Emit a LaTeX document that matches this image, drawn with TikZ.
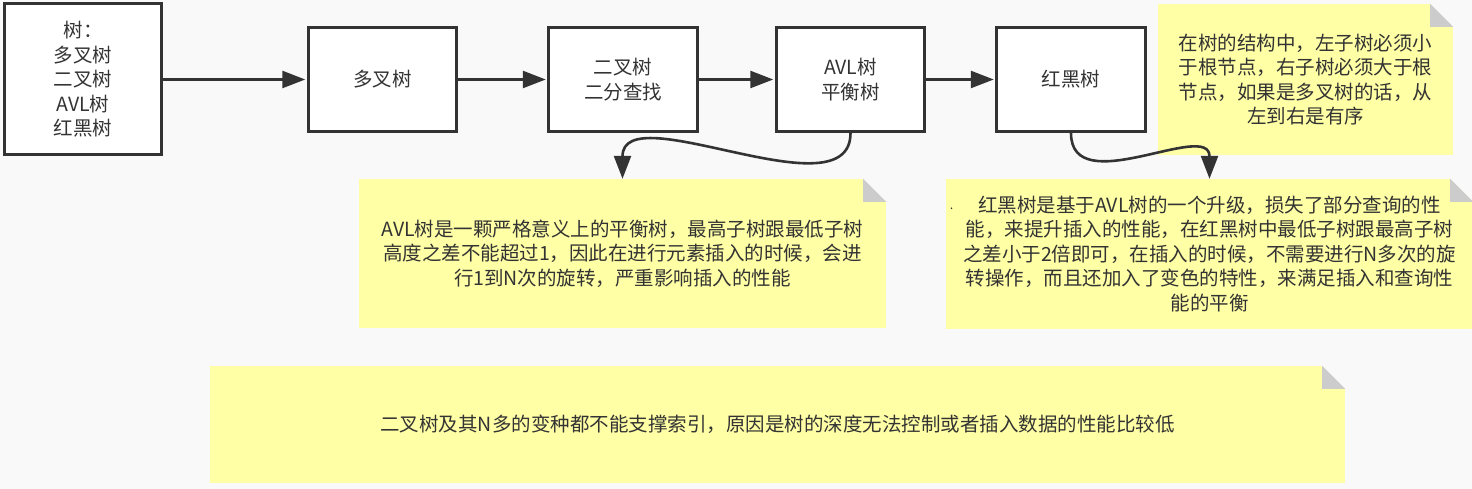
\documentclass[tikz,border=0pt]{standalone}
\usepackage{fontspec}
\setmainfont{Noto Sans CJK SC}
\usepackage{tikz}
\usetikzlibrary{arrows.meta, calc, positioning}
\definecolor{hinter}{HTML}{F9F9F9}
\definecolor{rand}{HTML}{333333}
\definecolor{notizgelb}{HTML}{FFFFA6}
\definecolor{knick}{HTML}{CCCCCC}

% Eselsohr oben rechts an einer Notiz
\newcommand{\eselsohr}[1]{%
  \fill[hinter] ($(#1.north east)+(-23pt,0)$) -- (#1.north east) -- ($(#1.north east)+(0,-23pt)$) -- cycle;
  \fill[knick] ($(#1.north east)+(-23pt,0)$) -- ($(#1.north east)+(0,-23pt)$) -- ($(#1.north east)+(-23pt,-23pt)$) -- cycle;}

\begin{document}
\begin{tikzpicture}[x=1pt, y=1pt,
    font=\fontsize{19.5pt}{24.5pt}\selectfont,
    kasten/.style={draw=rand, line width=3pt, fill=white, minimum width=148.5pt,
                   minimum height=104pt, align=center, inner sep=0pt, text=rand},
    notiz/.style={fill=notizgelb, align=center, inner sep=0pt, text=rand},
    pfeil/.style={draw=rand, line width=2.6pt, -{Triangle[length=23pt,width=17pt]}}]
      % --- Hintergrund
      \useasboundingbox (0,0) rectangle (1472,489);
      \fill[hinter] (0,0) rectangle (1472,489);

      % --- Kaesten oben
      \node[kasten, minimum width=157pt, minimum height=151pt] (baum) at (83,409.5)
        {树：\\多叉树\\二叉树\\AVL树\\红黑树};
      \node[kasten] (mehr) at (382.5,409.5) {多叉树};
      \node[kasten] (binaer) at (623,409.5) {二叉树\\二分查找};
      \node[kasten] (avl) at (850.5,409.5) {AVL树\\平衡树};
      \node[kasten] (rotschwarz) at (1071,409.5) {红黑树};

      % --- Notizen
      \node[notiz, minimum width=527pt, minimum height=149pt] (n-avl) at (622.5,235.5)
        {AVL树是一颗严格意义上的平衡树，最高子树跟最低子树\\高度之差不能超过1，因此在进行元素插入的时候，会进\\行1到N次的旋转，严重影响插入的性能};
      \node[notiz, minimum width=527pt, minimum height=150pt] (n-rs) at (1209.5,235)
        {红黑树是基于AVL树的一个升级，损失了部分查询的性\\能，来提升插入的性能，在红黑树中最低子树跟最高子树\\之差小于2倍即可，在插入的时候，不需要进行N多次的旋\\转操作，而且还加入了变色的特性，来满足插入和查询性\\能的平衡};
      \node[notiz, minimum width=295pt, minimum height=151pt] (n-ordnung) at (1305.5,409.5)
        {在树的结构中，左子树必须小\\于根节点，右子树必须大于根\\节点，如果是多叉树的话，从\\左到右是有序};
      \node[notiz, minimum width=1135pt, minimum height=117pt] (n-index) at (777.5,64.5)
        {二叉树及其N多的变种都不能支撑索引，原因是树的深度无法控制或者插入数据的性能比较低};
      \foreach \n in {n-avl,n-rs,n-ordnung,n-index} {\eselsohr{\n}}
      \fill[rand] (951.5,280.7) circle (0.9pt);

      % --- Pfeile
      \draw[pfeil, shorten >=1.5pt] (baum) -- (mehr);
      \draw[pfeil, shorten >=1.5pt] (mehr) -- (binaer);
      \draw[pfeil, shorten >=1.5pt] (binaer) -- (avl);
      \draw[pfeil, shorten >=1.5pt] (avl) -- (rotschwarz);
      \draw[pfeil] (avl.south) .. controls +(0,-83.5) and +(0,84.5) .. (n-avl.north);
      \draw[pfeil] (rotschwarz.south) .. controls +(0,-68.5) and +(0,59.5) .. (n-rs.north);
\end{tikzpicture}
\end{document}
